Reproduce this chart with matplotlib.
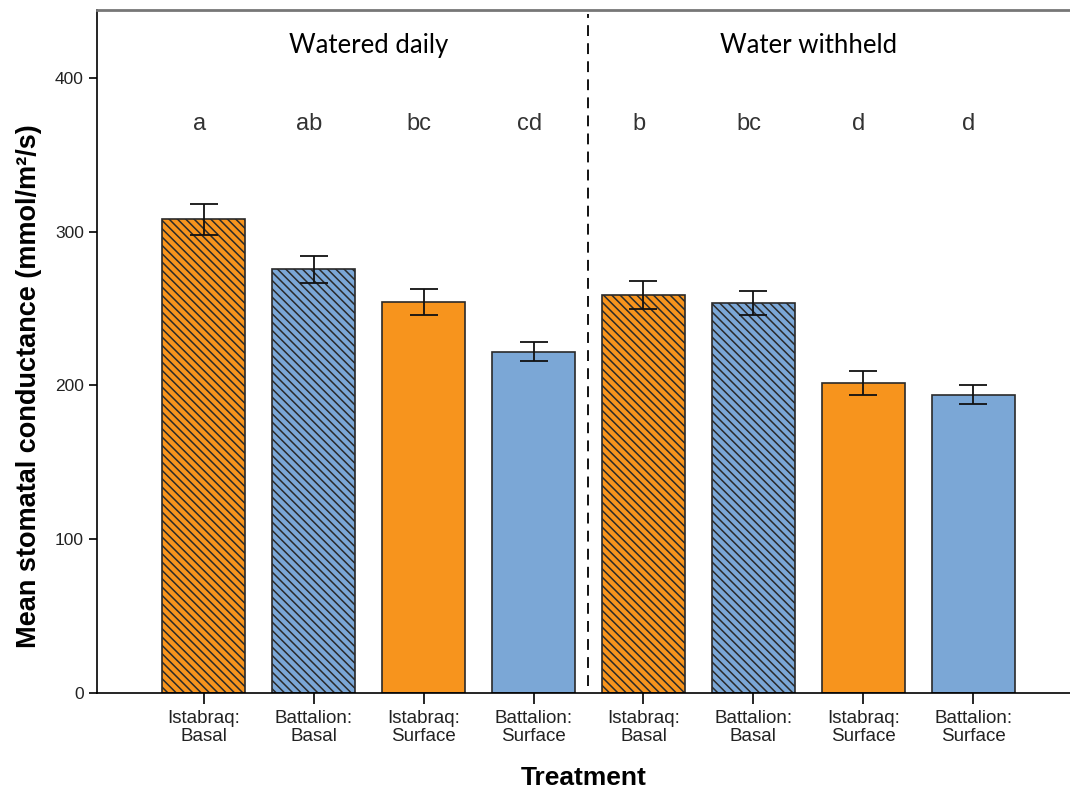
import numpy as np
import matplotlib
matplotlib.use("Agg")
import matplotlib.pyplot as plt

# data
treatments = ["Istabraq:\nBasal", "Battalion:\nBasal", "Istabraq:\nSurface", "Battalion:\nSurface",
              "Istabraq:\nBasal", "Battalion:\nBasal", "Istabraq:\nSurface", "Battalion:\nSurface"]
means = [308, 275.5, 254.5, 222, 259, 253.5, 201.5, 194]
errors = [10, 9, 8.5, 6, 9, 7.8, 7.6, 6]
letters = ["a", "ab", "bc", "cd", "b", "bc", "d", "d"]
groups = ["Watered daily", "Water withheld"]

orange = "#F7941D"
blue = "#7BA7D6"
colours = [orange, blue, orange, blue, orange, blue, orange, blue]
hatches = ["\\\\\\\\", "\\\\\\\\", "", "", "\\\\\\\\", "\\\\\\\\", "", ""]

plt.rcParams["hatch.linewidth"] = 1.1
plt.rcParams["font.family"] = ["Liberation Sans", "DejaVu Sans"]

fig = plt.figure(figsize=(10.7, 7.92), dpi=100)
ax = fig.add_axes([0.0907, 0.125, 0.9093, 0.862])

x = np.arange(len(means))
for i in range(len(means)):
    ax.bar(x[i], means[i], width=0.755, color=colours[i], edgecolor="#2a2a2a",
           linewidth=1.2, hatch=hatches[i], zorder=2)
ax.errorbar(x, means, yerr=errors, fmt="none", ecolor="#111111", elinewidth=1.3,
            capsize=10, capthick=1.3, zorder=3)

for i in range(len(letters)):
    ax.text(x[i] - 0.04, 370, letters[i], ha="center", va="center", fontsize=17, color="#333333")

ax.text(1.5, 421, groups[0], ha="center", va="center", fontsize=18.5, family="Lato")
ax.text(5.5, 421, groups[1], ha="center", va="center", fontsize=18.5, family="Lato")

ax.axvline(3.5, ymin=0.01, ymax=0.995, color="black", linestyle=(0, (6, 4)), linewidth=1.3)

ax.set_xlim(-0.97, 7.88)
ax.set_ylim(0, 444)
ax.set_yticks([0, 100, 200, 300, 400])
ax.set_xticks(x)
ax.set_xticklabels(treatments, fontsize=13.5, linespacing=1.08, color="#222222")
ax.tick_params(axis="y", labelsize=12.5, length=6, width=1.2, direction="out", labelcolor="#222222")
ax.tick_params(axis="x", length=8, width=1.2, direction="out", pad=4)

ax.spines["right"].set_visible(False)
ax.spines["top"].set_color("#777777")
ax.spines["top"].set_linewidth(2)
ax.spines["left"].set_linewidth(1.2)
ax.spines["bottom"].set_linewidth(1.2)

ax.set_ylabel("Mean stomatal conductance (mmol/m²/s)", fontsize=19.5, fontweight="bold")
ax.yaxis.set_label_coords(-0.057, 0.45)
ax.set_xlabel("Treatment", fontsize=19, fontweight="bold", labelpad=15)

fig.savefig("out.png", dpi=100)
